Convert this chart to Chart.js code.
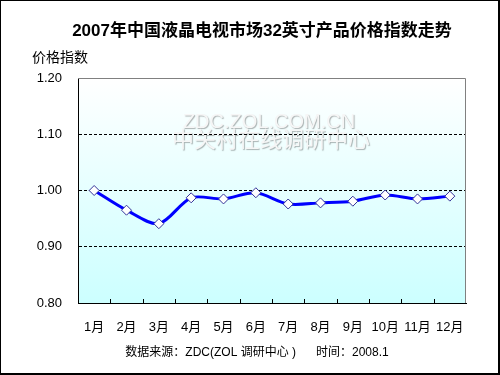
<!DOCTYPE html>
<html>
<head>
<meta charset="utf-8">
<script src="https://cdn.jsdelivr.net/npm/chart.js@4/dist/chart.umd.min.js"></script>
<style>
  html, body { margin: 0; padding: 0; background: #fff; }
  #wrap { width: 500px; height: 375px; position: relative; }
</style>
</head>
<body>
<div id="wrap"><canvas id="chart1" width="500" height="375"></canvas></div>
<script>
"use strict";

// data
var months = ['1月', '2月', '3月', '4月', '5月', '6月', '7月', '8月', '9月', '10月', '11月', '12月'];
var priceIndex = [1.00, 0.965, 0.941, 0.987, 0.985, 0.996, 0.976, 0.978, 0.981, 0.992, 0.985, 0.990];
var yTicks = [0.80, 0.90, 1.00, 1.10, 1.20];

var titleText = '2007年中国液晶电视市场32英寸产品价格指数走势';
var yLabelText = '价格指数';
var footerText = '数据来源：ZDC(ZOL 调研中心 )      时间：2008.1';
var markText1 = 'ZDC.ZOL.COM.CN';
var markText2 = '中关村在线调研中心';

var FONT = '"Liberation Sans", Arial, "Noto Sans CJK SC", sans-serif';

// background, watermark, borders and the extra texts
var decor = {
  id: 'decor',
  beforeDraw: function (chart) {
    var c = chart.ctx, a = chart.chartArea;
    c.save();
    c.fillStyle = '#fff';
    c.fillRect(0, 0, chart.width, chart.height);
    var g = c.createLinearGradient(0, a.top, 0, a.bottom);
    g.addColorStop(0, '#ffffff');
    g.addColorStop(1, '#ccffff');
    c.fillStyle = g;
    c.fillRect(a.left, a.top, a.right - a.left, a.bottom - a.top);

    // watermark
    c.textAlign = 'center';
    c.textBaseline = 'middle';
    c.shadowColor = 'rgba(0,0,0,0.3)';
    c.shadowOffsetX = 1;
    c.shadowOffsetY = 1;
    c.shadowBlur = 1;
    c.fillStyle = '#f6f6f6';
    c.font = '20px ' + FONT;
    c.fillText(markText1, 269, 122);
    c.font = '22px ' + FONT;
    c.fillText(markText2, 271, 141);
    c.restore();
  },
  afterDraw: function (chart) {
    var c = chart.ctx, a = chart.chartArea, x = chart.scales.x;
    c.save();
    // top / right border in gray
    c.strokeStyle = '#808080';
    c.lineWidth = 1;
    c.beginPath();
    c.moveTo(a.left, a.top + 0.5);
    c.lineTo(a.right - 0.5, a.top + 0.5);
    c.lineTo(a.right - 0.5, a.bottom);
    c.stroke();

    // small inward ticks on the category axis
    c.strokeStyle = '#000';
    c.beginPath();
    for (var i = 0; i < months.length - 1; i++) {
      var px = Math.round((x.getPixelForValue(i) + x.getPixelForValue(i + 1)) / 2) + 0.5;
      c.moveTo(px, a.bottom);
      c.lineTo(px, a.bottom - 4);
    }
    c.stroke();

    // texts
    c.fillStyle = '#000';
    c.textBaseline = 'middle';
    c.textAlign = 'center';
    c.font = 'bold 17px ' + FONT;
    c.fillText(titleText, 262, 31);
    c.textAlign = 'left';
    c.font = '14px ' + FONT;
    c.fillText(yLabelText, 32, 58);
    c.textAlign = 'center';
    c.font = '12px ' + FONT;
    c.fillText(footerText, 257, 353);

    // outer frame, heavier on right and bottom
    c.fillStyle = '#000';
    c.fillRect(0, 0, chart.width, 1);
    c.fillRect(0, 0, 1, chart.height);
    c.fillRect(chart.width - 2, 0, 2, chart.height);
    c.fillRect(0, chart.height - 2, chart.width, 2);
    c.restore();
  }
};

var ctx = document.getElementById('chart1').getContext('2d');

var myChart = new Chart(ctx, {
  type: 'line',
  data: {
    labels: months,
    datasets: [{
      label: yLabelText,
      data: priceIndex,
      borderColor: '#0000ff',
      borderWidth: 3,
      tension: 0.3,
      pointStyle: 'rectRot',
      pointRadius: 5,
      pointBackgroundColor: '#ffffff',
      pointBorderColor: '#333399',
      pointBorderWidth: 1,
      fill: false
    }]
  },
  options: {
    responsive: false,
    animation: false,
    devicePixelRatio: 1,
    layout: {
      padding: { left: 0, top: 78, right: 34, bottom: 0 }
    },
    plugins: {
      legend: { display: false },
      tooltip: { enabled: false }
    },
    scales: {
      x: {
        offset: true,
        afterFit: function (s) { s.height = 72; },
        grid: { display: false, drawTicks: false },
        border: { display: true, color: '#000', width: 1 },
        ticks: {
          color: '#000',
          padding: 17,
          maxRotation: 0,
          autoSkip: false,
          font: { family: FONT, size: 13 }
        }
      },
      y: {
        min: 0.8,
        max: 1.2,
        afterFit: function (s) { s.width = 78; },
        afterBuildTicks: function (s) {
          s.ticks = yTicks.map(function (v) { return { value: v }; });
        },
        grid: {
          drawTicks: false,
          color: function (c) {
            var v = c.tick ? c.tick.value : 0;
            return (v > 0.85 && v < 1.15) ? '#000' : 'rgba(0,0,0,0)';
          },
          lineWidth: 1
        },
        border: { display: true, color: '#000', width: 1, dash: [3, 2] },
        ticks: {
          color: '#000',
          padding: 16,
          font: { family: FONT, size: 13 },
          callback: function (v) { return Number(v).toFixed(2); }
        }
      }
    }
  },
  plugins: [decor]
});
</script>
</body>
</html>
